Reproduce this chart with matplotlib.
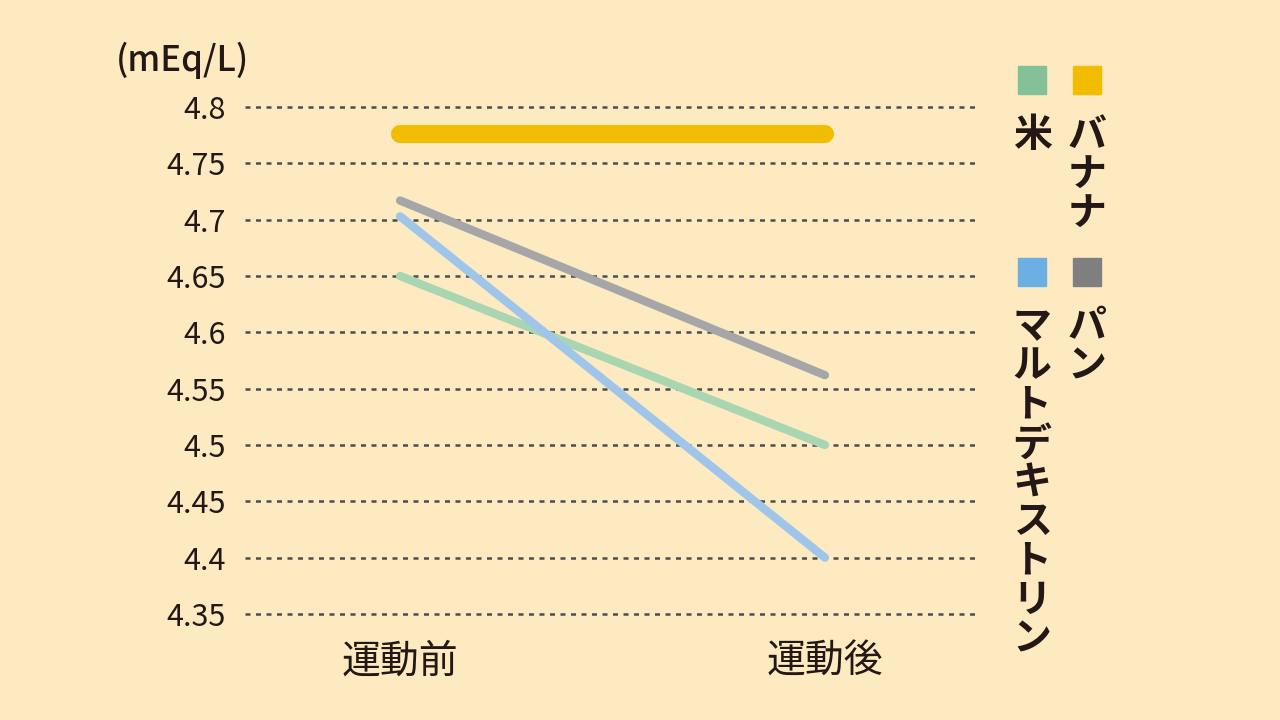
import matplotlib.pyplot as plt

plt.rcParams['font.family'] = ['Noto Sans CJK JP', 'DejaVu Sans']

phases = ['運動前', '運動後']
names = ['米', 'バナナ', 'マルトデキストリン', 'パン']
rice = [4.65, 4.50]
banana = [4.776, 4.776]
malto = [4.703, 4.40]
bread = [4.717, 4.562]
yticks = [4.35, 4.4, 4.45, 4.5, 4.55, 4.6, 4.65, 4.7, 4.75, 4.8]
ytick_labels = ['4.35', '4.4', '4.45', '4.5', '4.55', '4.6', '4.65', '4.7', '4.75', '4.8']

bg = '#fdeac0'
txt = '#231815'
line_cols = {'米': '#a9d5b2', 'バナナ': '#f2bc00', 'マルトデキストリン': '#9fc5ea', 'パン': '#a5a6a8'}
box_cols = {'米': '#85c196', 'バナナ': '#f2bc00', 'マルトデキストリン': '#6cafe2', 'パン': '#7f7f7f'}

fig = plt.figure(figsize=(12.8, 7.2), dpi=100, facecolor=bg)
ax = fig.add_axes([245 / 1280, 1 - 636.5 / 720, 735 / 1280, 552 / 720])
ax.set_facecolor(bg)

x = [0, 1]
for yv in yticks:
    ax.axhline(yv, color='#4d4d4d', lw=1.8, dashes=(2, 2.2), zorder=1)

ax.plot(x, rice, color=line_cols['米'], lw=6, solid_capstyle='round', zorder=3)
ax.plot(x, malto, color=line_cols['マルトデキストリン'], lw=6, solid_capstyle='round', zorder=3)
ax.plot(x, bread, color=line_cols['パン'], lw=6, solid_capstyle='round', zorder=3)
ax.plot(x, banana, color=line_cols['バナナ'], lw=13, solid_capstyle='round', zorder=4)

ax.set_xlim(-0.365, 1.365)
ax.set_ylim(4.33, 4.82)
ax.set_yticks(yticks)
ax.set_yticklabels(ytick_labels, fontsize=22, color=txt)
ax.set_xticks(x)
ax.set_xticklabels(phases, fontsize=28, color=txt)
ax.tick_params(axis='both', length=0)
ax.tick_params(axis='y', pad=14)
ax.tick_params(axis='x', pad=4)
for s in ax.spines.values():
    s.set_visible(False)

fig.text(116 / 1280, 1 - 60 / 720, '(mEq/L)', fontsize=25, color=txt,
         ha='left', va='center', fontweight='medium')

# legend: two columns, vertical text
legend_pos = [(1032, 80, '米'), (1087, 80, 'バナナ'), (1032, 272, 'マルトデキストリン'), (1087, 272, 'パン')]
for cx, cy, nm in legend_pos:
    fig.patches.append(plt.Rectangle(((cx - 14) / 1280, 1 - (cy + 14) / 720), 28 / 1280, 28 / 720,
                                     transform=fig.transFigure, color=box_cols[nm], figure=fig))
    for i, ch in enumerate(nm):
        fig.text(cx / 1280, 1 - (cy + 55 + i * 39) / 720, ch, fontsize=28,
                 color=txt, ha='center', va='center', fontweight='bold')

fig.savefig('out.png', dpi=100, facecolor=bg)
